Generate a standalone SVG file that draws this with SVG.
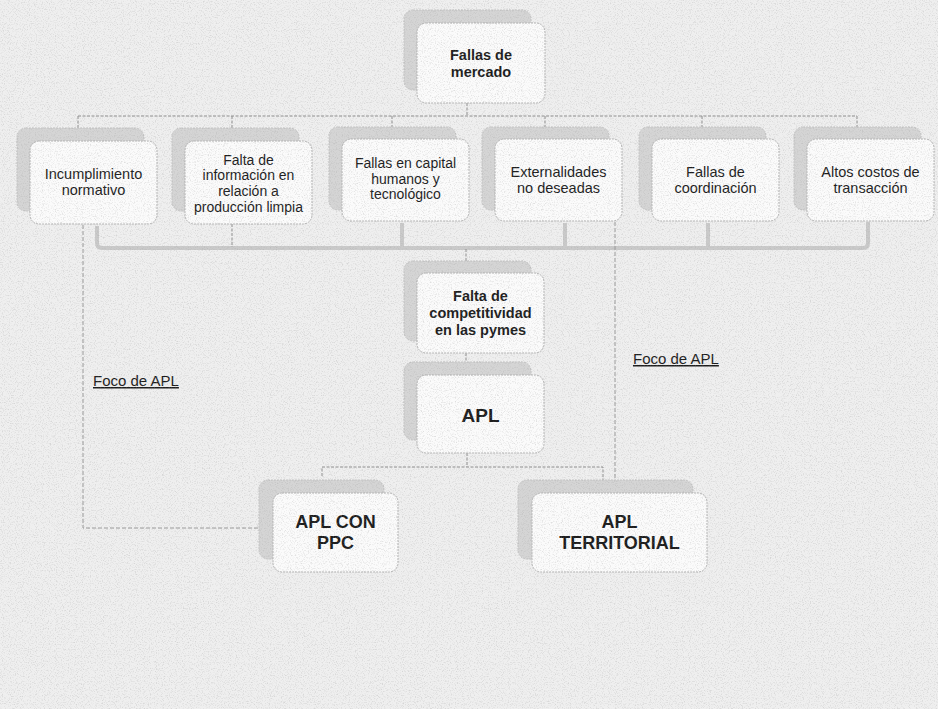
<svg xmlns="http://www.w3.org/2000/svg" width="938" height="709" viewBox="0 0 938 709">
<defs>
<filter id="grain" x="0" y="0" width="100%" height="100%">
<feTurbulence type="fractalNoise" baseFrequency="0.85" numOctaves="2" seed="7" result="n"/>
<feColorMatrix type="matrix" values="0 0 0 0 0.35  0 0 0 0 0.35  0 0 0 0 0.35  3 0 0 0 -1.45"/>
</filter>
</defs>
<style>
.bg{fill:#efefef}
.sh{fill:#d5d5d5;stroke:#c4c4c4;stroke-width:1;stroke-dasharray:2 1}
.fr{fill:#fbfbfb;stroke:#b5b5b5;stroke-width:1;stroke-dasharray:2 1}
.t{font-family:"Liberation Sans",Arial,sans-serif;font-size:14.5px;fill:#1c1c1c;text-anchor:middle}
.s{font-size:14px}
.b{font-weight:bold}
.big{font-size:18px;font-weight:bold}
.foco{font-family:"Liberation Sans",Arial,sans-serif;font-size:15px;fill:#1c1c1c;text-decoration:underline}
.thin{fill:none;stroke:#8e8e8e;stroke-width:1;stroke-dasharray:3 1.5}
.thick{fill:none;stroke:#cacaca;stroke-width:4}
.dash{fill:none;stroke:#9a9a9a;stroke-width:1;stroke-dasharray:4 2}
</style>
<rect class="bg" x="0" y="0" width="938" height="709"/>

<g id="connectors">
<path class="thin" d="M467,103 L467,116 M78,116 L857,116 M78,116 L78,128 M232,116 L232,128 M392,116 L392,127 M545,116 L545,127 M702,116 L702,127 M857,116 L857,127"/>
<path class="thick" d="M97,226 L97,243 Q97,248 102,248 L863,248 Q868,248 868,243 L868,222 M402,223 L402,247 M565,223 L565,247 M708,223 L708,247"/>
<path class="thin" d="M232,224 L232,247 M466,249 L466,262 M466,353 L466,362 M467,453 L467,467 M322,476 L322,467 L603,467 L603,480"/>
<path class="dash" d="M83,225 L83,528 L273,528 M615,222 L615,478"/>
</g>

<g id="n-fallas-mercado">
<rect class="sh" x="404" y="10" width="127" height="80" rx="9"/>
<rect class="fr" x="417" y="23" width="128" height="80" rx="9"/>
<text class="t b" x="481" y="60">Fallas de</text>
<text class="t b" x="481" y="77">mercado</text>
</g>

<g id="n-incumplimiento">
<rect class="sh" x="17" y="128" width="127" height="83" rx="9"/>
<rect class="fr" x="30" y="141" width="127" height="83" rx="9"/>
<text class="t" x="93.5" y="179">Incumplimiento</text>
<text class="t" x="93.5" y="195">normativo</text>
</g>

<g id="n-falta-informacion">
<rect class="sh" x="172" y="128" width="127" height="83" rx="9"/>
<rect class="fr" x="185" y="141" width="127" height="83" rx="9"/>
<text class="t s" x="248.5" y="164.5">Falta de</text>
<text class="t s" x="248.5" y="180.2">información en</text>
<text class="t s" x="248.5" y="195.9">relación a</text>
<text class="t s" x="248.5" y="211.6">producción limpia</text>
</g>

<g id="n-fallas-capital">
<rect class="sh" x="329" y="127" width="127" height="83" rx="9"/>
<rect class="fr" x="342" y="139" width="127" height="82" rx="9"/>
<text class="t s" x="405.5" y="168">Fallas en capital</text>
<text class="t s" x="405.5" y="183.7">humanos y</text>
<text class="t s" x="405.5" y="199.4">tecnológico</text>
</g>

<g id="n-externalidades">
<rect class="sh" x="482" y="127" width="127" height="83" rx="9"/>
<rect class="fr" x="495" y="139" width="127" height="82" rx="9"/>
<text class="t" x="558.5" y="177">Externalidades</text>
<text class="t" x="558.5" y="193">no deseadas</text>
</g>

<g id="n-coordinacion">
<rect class="sh" x="639" y="127" width="127" height="83" rx="9"/>
<rect class="fr" x="652" y="139" width="127" height="82" rx="9"/>
<text class="t" x="715.5" y="177">Fallas de</text>
<text class="t" x="715.5" y="193">coordinación</text>
</g>

<g id="n-costos">
<rect class="sh" x="794" y="127" width="127" height="83" rx="9"/>
<rect class="fr" x="807" y="139" width="127" height="82" rx="9"/>
<text class="t" x="870.5" y="177">Altos costos de</text>
<text class="t" x="870.5" y="193">transacción</text>
</g>

<g id="n-competitividad">
<rect class="sh" x="404" y="261" width="127" height="80" rx="9"/>
<rect class="fr" x="417" y="273" width="127" height="80" rx="9"/>
<text class="t b" x="480.5" y="301">Falta de</text>
<text class="t b" x="480.5" y="318">competitividad</text>
<text class="t b" x="480.5" y="335">en las pymes</text>
</g>

<g id="n-apl">
<rect class="sh" x="404" y="362" width="127" height="78" rx="9"/>
<rect class="fr" x="417" y="375" width="127" height="78" rx="9"/>
<text class="t big" x="480.5" y="422" style="font-size:19px">APL</text>
</g>

<g id="n-apl-ppc">
<rect class="sh" x="259" y="480" width="125" height="79" rx="9"/>
<rect class="fr" x="273" y="493" width="125" height="79" rx="9"/>
<text class="t big" x="335.5" y="528">APL CON</text>
<text class="t big" x="335.5" y="549">PPC</text>
</g>

<g id="n-apl-territorial">
<rect class="sh" x="518" y="480" width="175" height="79" rx="9"/>
<rect class="fr" x="532" y="493" width="175" height="79" rx="9"/>
<text class="t big" x="619.5" y="528">APL</text>
<text class="t big" x="619.5" y="549">TERRITORIAL</text>
</g>

<text class="foco" x="93" y="386">Foco de APL</text>
<text class="foco" x="633" y="364">Foco de APL</text>

<rect x="0" y="0" width="938" height="709" filter="url(#grain)" opacity="0.3" pointer-events="none"/>
</svg>
